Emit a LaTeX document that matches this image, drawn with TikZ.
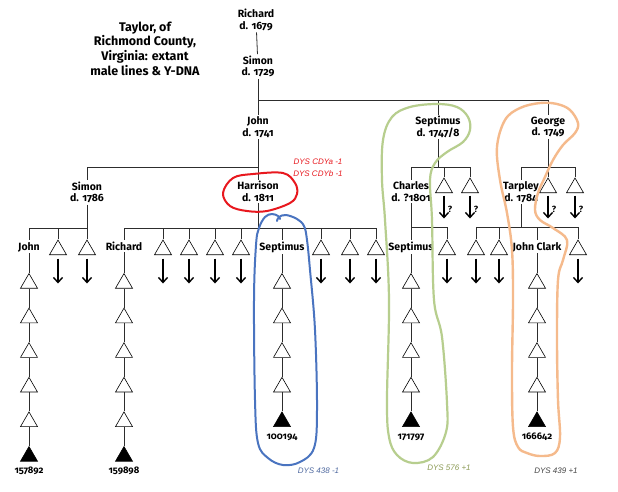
\documentclass[tikz,border=0pt]{standalone}
\usepackage{fontspec}
\setmainfont{Fira Sans}[Numbers=OldStyle]
\newfontfamily\dysfont{Liberation Sans}
\usetikzlibrary{shapes.geometric,arrows.meta}
\definecolor{loopred}{RGB}{232,24,30}
\definecolor{loopblue}{RGB}{74,116,192}
\definecolor{loopgreen}{RGB}{183,206,142}
\definecolor{looporange}{RGB}{245,186,140}
\definecolor{dysblue}{RGB}{79,105,160}
\definecolor{dysgreen}{RGB}{140,155,85}
\definecolor{dysgray}{RGB}{70,70,70}
\definecolor{linegray}{RGB}{45,45,45}
\begin{document}
\begin{tikzpicture}[x=1pt,y=-1pt,
 lbl/.style={align=center,font=\fontsize{10.5}{11.5}\selectfont\bfseries,inner sep=1.5pt},
 slbl/.style={font=\fontsize{10.5}{11.5}\selectfont\bfseries,inner sep=1.5pt,anchor=base},
 num/.style={font=\fontsize{9.5}{10}\selectfont\bfseries,inner sep=0pt,anchor=base},
 tri/.style={draw=black,regular polygon,regular polygon sides=3,minimum size=19.6pt,inner sep=0pt,line width=0.6pt,fill=white},
 ftri/.style={tri,fill=black},
 branch/.style={draw=linegray,line width=0.8pt},
 arr/.style={draw=black,line width=1.4pt,-{Straight Barb[length=5pt,width=9pt]}},
 qm/.style={font=\fontsize{9}{10}\selectfont\bfseries,inner sep=0pt},
 hand/.style={line width=2pt,line cap=round,line join=round},
 dys/.style={font=\fontsize{8}{9.5}\selectfont\dysfont\itshape,inner sep=0pt},
]
\useasboundingbox[fill=white] (0,0) rectangle (618,491);

% title
\node[align=center,font=\fontsize{12.5}{14.6}\selectfont\bfseries] (title) at (145,48.5) {Taylor, of\\Richmond County,\\Virginia: extant\\male lines \& Y-DNA};

% named people
\node[lbl] (richard) at (256,20) {Richard\\d. 1679};
\node[lbl] (simon1) at (258,66.5) {Simon\\d. 1729};
\node[lbl] (john1) at (258,127.3) {John\\d. 1741};
\node[lbl] (septA) at (438,127) {Septimus\\d. 1747/8};
\node[lbl] (george) at (548,127) {George\\d. 1749};
\node[lbl] (simon2) at (87,192.3) {Simon\\d. 1786};
\node[lbl] (harrison) at (258,191.5) {Harrison\\d. 1811};
\node[lbl] (charles) at (411,191.5) {Charles\\d. ?1801};
\node[lbl] (tarpley) at (521,192.3) {Tarpley\\d. 1784};

\node[slbl] (john2) at (29,250) {John};
\node[slbl] (richard2) at (124,250) {Richard};
\node[slbl] (septB) at (282,250) {Septimus};
\node[slbl] (septC) at (411,250) {Septimus};
\node[slbl] (jclark) at (537,250) {John Clark};

% level-2 triangles
\node[tri] (sa1) at (444,187.8) {};
\node[tri] (sa2) at (470,187.8) {};
\node[tri] (g1) at (548,187.8) {};
\node[tri] (g2) at (575,187.8) {};

% level-3 triangles
\foreach \n/\x in {s2a/58,s2b/87,h1/163,h2/189,h3/215,h4/241,h5/321,h6/350,h7/376,c1/447,t1/476,t2/499,t3/578}{
  \node[tri] (\n) at (\x,249.8) {};
}

% chains
\foreach \c/\x/\m/\lab/\ly in {A/29/6/157892/473,B/124/6/159898/473,C/282/5/100194/439,D/411/5/171797/439,E/537/5/166642/439}{
  \foreach \i in {1,...,\m}{
    \pgfmathsetmacro{\yy}{283.3+34.6*(\i-1)}
    \ifnum\i=\m
      \node[ftri] (\c\i) at (\x,\yy) {};
    \else
      \node[tri] (\c\i) at (\x,\yy) {};
    \fi
    \ifnum\i>1
      \pgfmathtruncatemacro{\p}{\i-1}
      \draw[branch] (\c\p) -- (\c\i);
    \fi
  }
  \node[num] (n\c) at (\x,\ly) {\lab};
}
\draw[branch] (john2) -- (A1);
\draw[branch] (richard2) -- (B1);
\draw[branch] (septB) -- (C1);
\draw[branch] (septC) -- (D1);
\draw[branch] (jclark) -- (E1);

% bars
\coordinate (b1) at (0,100);
\coordinate (b2) at (0,167);
\coordinate (b3) at (0,228);
\coordinate (b4) at (0,227);

\draw[branch] (richard) -- (simon1);
\draw[branch] (simon1) -- (john1);
\draw[branch] (john1 |- b1) -- (george |- b1);
\draw[branch] (septA |- b1) -- (septA);
\draw[branch] (george |- b1) -- (george);

\draw[branch] (john1) -- (harrison);
\draw[branch] (simon2 |- b2) -- (harrison |- b2);
\draw[branch] (simon2 |- b2) -- (simon2);

\draw[branch] (septA) -- (septA |- b2);
\draw[branch] (charles |- b2) -- (sa2 |- b2);
\draw[branch] (charles |- b2) -- (charles);
\draw[branch] (sa1 |- b2) -- (sa1);
\draw[branch] (sa2 |- b2) -- (sa2);

\draw[branch] (george) -- (g1);
\draw[branch] (tarpley |- b2) -- (g2 |- b2);
\draw[branch] (tarpley |- b2) -- (tarpley);
\draw[branch] (g2 |- b2) -- (g2);

\draw[branch] (simon2) -- (s2b);
\draw[branch] (john2 |- b3) -- (s2b |- b3);
\draw[branch] (john2 |- b3) -- (john2);
\draw[branch] (s2a |- b3) -- (s2a);

\draw[branch] (harrison) -- (harrison |- b3);
\draw[branch] (richard2 |- b3) -- (h7 |- b3);
\foreach \n in {richard2,h1,h2,h3,h4,septB,h5,h6,h7}{
  \draw[branch] (\n |- b3) -- (\n);
}

\draw[branch] (charles) -- (septC);
\draw[branch] (septC |- b4) -- (c1 |- b4);
\draw[branch] (c1 |- b4) -- (c1);

\draw[branch] (tarpley) -- (tarpley |- b4);
\draw[branch] (t1 |- b4) -- (t3 |- b4);
\foreach \n in {t1,t2,jclark,t3}{
  \draw[branch] (\n |- b4) -- (\n);
}

% arrows
\foreach \t in {sa1,sa2,g1,g2}{
  \draw[arr] (\t.south) ++(0,2.5) -- ++(0,23);
  \node[qm] (q\t) at ([xshift=6pt,yshift=-16.7pt]\t.south) {?};
}
\foreach \t in {s2a,s2b,h1,h2,h3,h4,h5,h6,h7,c1,t1,t2,t3}{
  \draw[arr] (\t.south) ++(0,3.5) -- ++(0,25);
}

% hand-drawn loops
\draw[hand,loopred] plot[smooth cycle,tension=0.6] coordinates {(233,178) (253,174) (283,173) (295,183) (297,194) (290,203) (267,211) (247,211) (230,206) (223,193)};
\draw[hand,loopblue] plot[smooth,tension=0.6] coordinates {(277,221) (279,217) (286,215) (297,219) (304,226) (307,240) (310,270) (315,330) (317,410) (314,448) (300,462) (283,465) (268,458) (258,443) (255,400) (254,300) (256,245) (259,228) (265,217) (272,214) (278,216) (280,219)};
\draw[hand,loopgreen,line width=2.2pt] plot[smooth cycle,tension=0.6] coordinates {(437,104) (457,107) (468,117) (470,130) (463,142) (447,152) (435,163) (430,180) (432,220) (434,300) (442,337) (447,403) (446,432) (433,457) (413,463) (397,455) (389,437) (387,400) (389,300) (385,220) (382,180) (383,140) (392,117) (410,107)};
\draw[hand,looporange,line width=2.4pt] plot[smooth cycle,tension=0.6] coordinates {(540,103) (557,104) (570,110) (578,123) (575,133) (563,145) (553,160) (545,177) (538,193) (535,210) (540,220) (553,228) (567,240) (563,260) (558,280) (557,340) (558,400) (560,437) (555,453) (540,456) (527,453) (518,447) (513,427) (512,370) (513,300) (512,250) (507,213) (500,180) (497,147) (505,120) (520,108)};

% DYS notes
\node[dys,text=loopred] (dys1) at (318,162) {DYS CDYa -1};
\node[dys,text=loopred] (dys2) at (318,173.5) {DYS CDYb -1};
\node[dys,text=dysblue] (dys3) at (318.5,471) {DYS 438 -1};
\node[dys,text=dysgreen] (dys4) at (449,467.5) {DYS 576 +1};
\node[dys,text=dysgray] (dys5) at (556,471) {DYS 439 +1};
\end{tikzpicture}
\end{document}
